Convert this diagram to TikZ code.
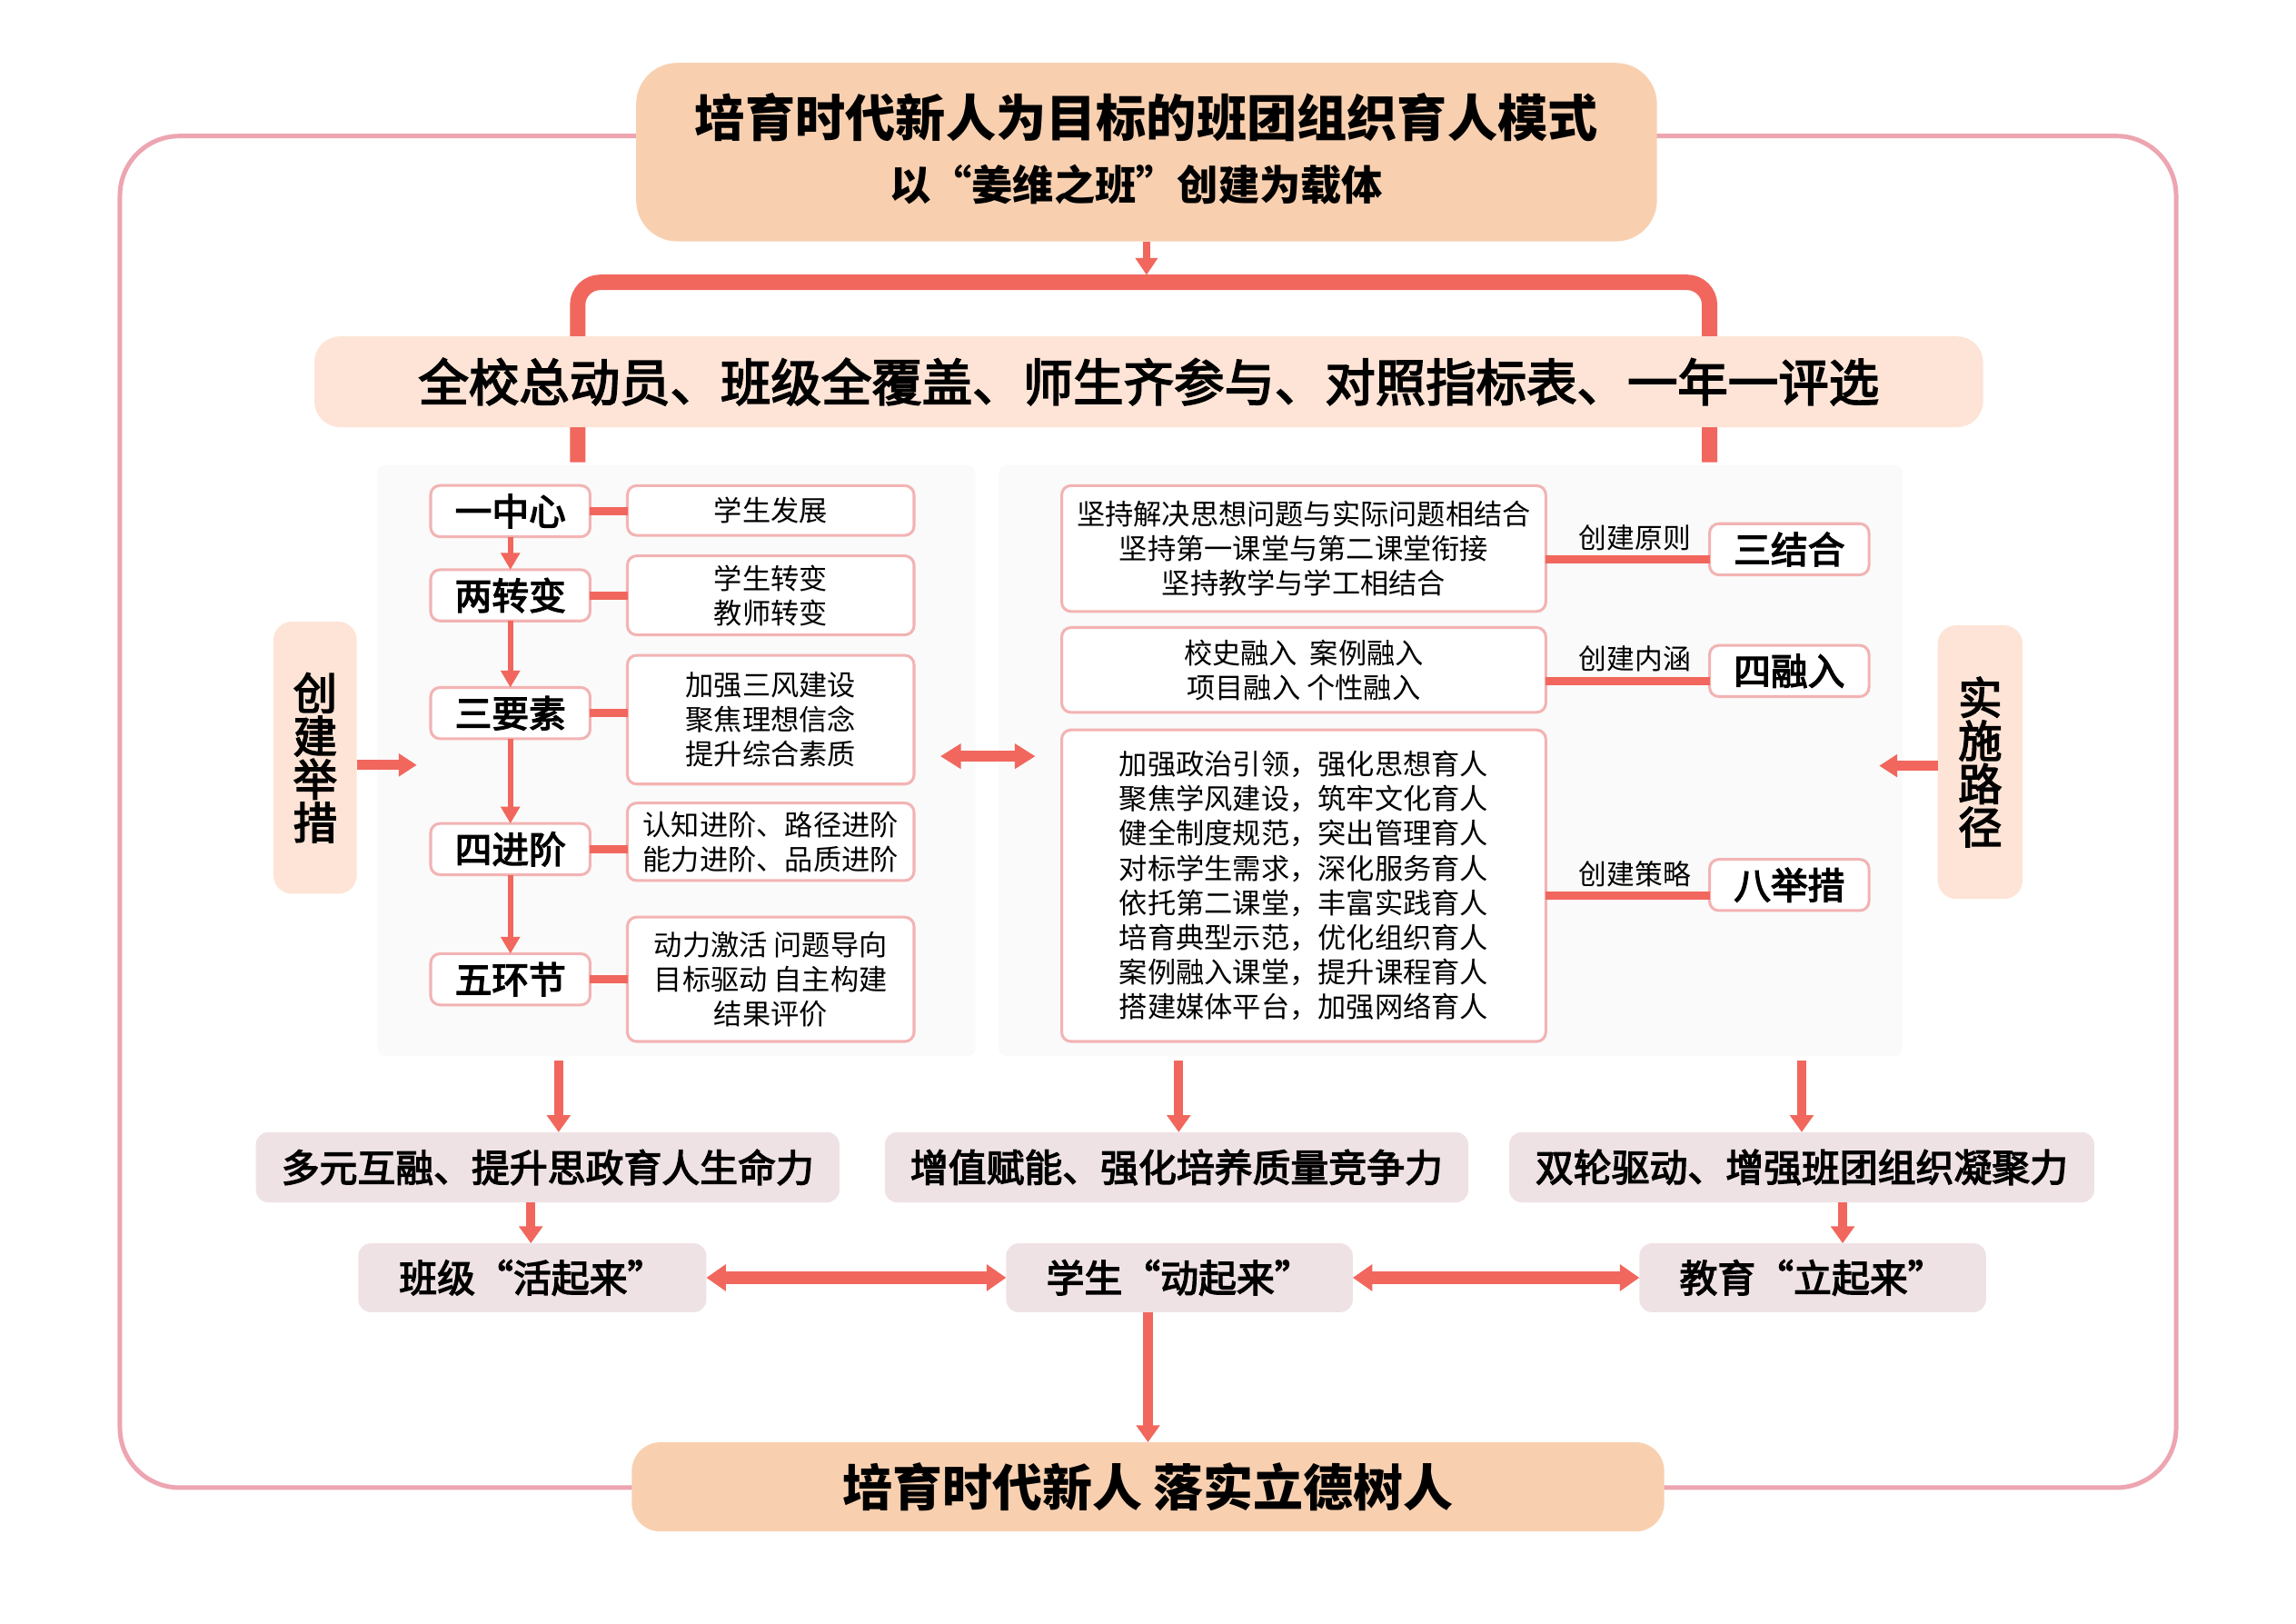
\documentclass[tikz,border=0pt]{standalone}
\usepackage{fontspec}
\setmainfont{Noto Sans CJK SC}
\newfontfamily\medfont{Noto Sans CJK SC}[FakeBold=3.2]
\usetikzlibrary{arrows.meta}
\definecolor{redc}{HTML}{F1675D}
\definecolor{framec}{HTML}{EDA5B1}
\definecolor{boxc}{HTML}{F3B3B3}
\definecolor{peach}{HTML}{F8D0B0}
\definecolor{lpeach}{HTML}{FDE4D6}
\definecolor{gpink}{HTML}{EFE2E4}
\definecolor{panelc}{HTML}{FAFAFA}
\begin{document}
\begin{tikzpicture}[x=0.25mm, y=-0.25mm,
  every node/.style={inner sep=0pt, outer sep=0pt, align=center, text=black},
  sz/.style 2 args={minimum width=#1*0.25mm, minimum height=#2*0.25mm},
  wbox/.style={draw=boxc, line width=1.35pt, fill=white, rounded corners=4.5pt},
  pbox/.style={fill=peach, rounded corners=20pt},
  lbox/.style={fill=lpeach, rounded corners=9pt},
  gbox/.style={fill=gpink, rounded corners=6pt},
  fTa/.style={font=\fontsize{24.4pt}{28pt}\selectfont\bfseries},
  fTb/.style={font=\fontsize{20pt}{26pt}\selectfont\bfseries},
  fBan/.style={font=\medfont\fontsize{24.5pt}{28pt}\selectfont},
  fNode/.style={font=\medfont\fontsize{18pt}{22pt}\selectfont},
  fDet/.style={font=\fontsize{13.8pt}{16.75pt}\selectfont},
  fLab/.style={font=\fontsize{13.6pt}{16pt}\selectfont},
  fSide/.style={font=\medfont\fontsize{21.3pt}{21pt}\selectfont},
  fRow/.style={font=\medfont\fontsize{18.5pt}{22pt}\selectfont},
  fFin/.style={font=\fontsize{24.3pt}{28pt}\selectfont\bfseries},
  arrS/.style={draw=redc, line width=2.5pt, -{Triangle[length=8.2pt,width=9pt]}},
  arrT/.style={draw=redc, line width=3.5pt, -{Triangle[length=8.3pt,width=10.5pt]}},
  arrB/.style={draw=redc, line width=4.5pt, -{Triangle[length=8.3pt,width=11.2pt]}},
  arrSide/.style={draw=redc, line width=4.8pt, -{Triangle[length=8.8pt,width=10.7pt]}},
  dblM/.style={draw=redc, line width=5.3pt, {Triangle[length=10pt,width=11.7pt]}-{Triangle[length=10pt,width=11.7pt]}},
  dblB/.style={draw=redc, line width=6.6pt, {Triangle[length=9.5pt,width=12.5pt]}-{Triangle[length=9.5pt,width=12.5pt]}},
  barS/.style={draw=redc, line width=4pt}
]
\useasboundingbox (0,0) rectangle (1570,1110.2);
\fill[white] (0,0) rectangle (1570,1110.2);

% outer frame
\draw[framec, line width=2.2pt, rounded corners=29pt] (82,93) rectangle (1488,1017);

% background panels
\fill[panelc, rounded corners=4pt] (258,318) rectangle (667,722);
\fill[panelc, rounded corners=4pt] (683,318) rectangle (1301,722);

% title
\node[pbox, sz={698}{122}] (title) at (784,104) {};
\node[fTa] (titleA) at (784,80) {培育时代新人为目标的班团组织育人模式};
\node[fTb] (titleB) at (777,126) {以“姜维之班”创建为载体};

% bracket
\coordinate (bl) at (395,316);
\coordinate (btl) at (395,193);
\coordinate (btr) at (1169,193);
\coordinate (br) at (1169,316);
\draw[redc, line width=7.5pt, rounded corners=11pt] (bl) -- (btl) -- (btr) -- (br);
\coordinate (btop) at (784,188);
\draw[arrT] (title.south) -- (btop);

% banner
\node[lbox, sz={1141}{62}, fBan, rounded corners=12.5pt] (banner) at (785.5,261) {全校总动员、班级全覆盖、师生齐参与、对照指标表、一年一评选};

% left column
\node[wbox, sz={109}{35}, fNode] (n1) at (349,349.4) {一中心};
\node[wbox, sz={109}{35}, fNode] (n2) at (349,407) {两转变};
\node[wbox, sz={109}{35}, fNode] (n3) at (349,487.5) {三要素};
\node[wbox, sz={109}{35}, fNode] (n4) at (349,580.5) {四进阶};
\node[wbox, sz={109}{35}, fNode] (n5) at (349,669.5) {五环节};

\node[wbox, sz={196}{34}, fDet] (d1) at (527,349) {学生发展};
\node[wbox, sz={196}{54}, fDet] (d2) at (527,407) {学生转变\\教师转变};
\node[wbox, sz={196}{88}, fDet] (d3) at (527,492) {加强三风建设\\聚焦理想信念\\提升综合素质};
\node[wbox, sz={196}{53}, fDet] (d4) at (527,575.5) {认知进阶、路径进阶\\能力进阶、品质进阶};
\node[wbox, sz={196}{85}, fDet] (d5) at (527,669.5) {动力激活 问题导向\\目标驱动 自主构建\\结果评价};

\draw[barS] (n1.east) -- (d1.west |- n1.east);
\draw[barS] (n2.east) -- (d2.west |- n2.east);
\draw[barS] (n3.east) -- (d3.west |- n3.east);
\draw[barS] (n4.east) -- (d4.west |- n4.east);
\draw[barS] (n5.east) -- (d5.west |- n5.east);

\draw[arrS] (n1.south) -- (n2.north);
\draw[arrS] (n2.south) -- (n3.north);
\draw[arrS] (n3.south) -- (n4.north);
\draw[arrS] (n4.south) -- (n5.north);

% side labels
\node[lbox, sz={57}{186}, fSide] (L) at (215.5,518) {创\\建\\举\\措};
\coordinate (Lt) at (285,523);
\draw[arrSide] (L.east |- Lt) -- (Lt);

\node[lbox, sz={58}{187}, fSide] (R) at (1354,521) {实\\施\\路\\径};
\coordinate (Rt) at (1285,523.5);
\draw[arrSide] (R.west |- Rt) -- (Rt);

% middle double arrow
\coordinate (m1) at (643,517);
\coordinate (m2) at (708,517);
\draw[dblM] (m1) -- (m2);

% right column
\node[wbox, sz={331}{86}, fDet] (rA) at (891.5,375) {坚持解决思想问题与实际问题相结合\\坚持第一课堂与第二课堂衔接\\坚持教学与学工相结合};
\node[wbox, sz={331}{58}, fDet] (rB) at (891.5,458) {校史融入\ \ 案例融入\\项目融入 个性融入};
\node[wbox, sz={331}{213}, fDet, font=\fontsize{13.8pt}{16.85pt}\selectfont] (rC) at (891.5,605.5) {加强政治引领，强化思想育人\\聚焦学风建设，筑牢文化育人\\健全制度规范，突出管理育人\\对标学生需求，深化服务育人\\依托第二课堂，丰富实践育人\\培育典型示范，优化组织育人\\案例融入课堂，提升课程育人\\搭建媒体平台，加强网络育人};

\node[wbox, sz={109}{35}, fNode] (s1) at (1223.5,375.5) {三结合};
\node[wbox, sz={109}{35}, fNode] (s2) at (1223.5,458.7) {四融入};
\node[wbox, sz={109}{35}, fNode] (s3) at (1223.5,605) {八举措};

\draw[barS] ([yshift=-5pt]s1.west) -- ([yshift=-5pt]s1.west -| rA.east);
\draw[barS] ([yshift=-5pt]s2.west) -- ([yshift=-5pt]s2.west -| rB.east);
\draw[barS] ([yshift=-5pt]s3.west) -- ([yshift=-5pt]s3.west -| rC.east);

\node[fLab] (lab1) at (1118,367.5) {创建原则};
\node[fLab] (lab2) at (1118,450.5) {创建内涵};
\node[fLab] (lab3) at (1118,597.5) {创建策略};

% bottom rows
\node[gbox, sz={399}{48}, fRow] (b1) at (374.5,798) {多元互融、提升思政育人生命力};
\node[gbox, sz={399}{48}, fRow] (b2) at (804.5,798) {增值赋能、强化培养质量竞争力};
\node[gbox, sz={400}{48}, fRow] (b3) at (1232,798) {双轮驱动、增强班团组织凝聚力};

\coordinate (k1) at (382,725);
\coordinate (k2) at (806,725);
\coordinate (k3) at (1232,725);
\draw[arrB] (k1) -- (k1 |- b1.north);
\draw[arrB] (k2) -- (k2 |- b2.north);
\draw[arrB] (k3) -- (k3 |- b3.north);

\node[gbox, sz={238}{47}, fRow] (e1) at (364,873.5) {班级“活起来”};
\node[gbox, sz={237}{47}, fRow] (e2) at (806.5,873.5) {学生“动起来”};
\node[gbox, sz={237}{47}, fRow] (e3) at (1239.5,873.5) {教育“立起来”};

\coordinate (k4) at (363,0);
\coordinate (k5) at (1260,0);
\draw[arrB] (k4 |- b1.south) -- (k4 |- e1.north);
\draw[arrB] (k5 |- b3.south) -- (k5 |- e3.north);

\draw[dblB] (e1.east) -- (e2.west);
\draw[dblB] (e2.east) -- (e3.west);

% final
\node[pbox, sz={706}{61}, fFin, rounded corners=14pt] (fin) at (785,1016.5) {培育时代新人 落实立德树人};
\draw[arrB] (fin.north |- e2.south) -- (fin.north);
\end{tikzpicture}
\end{document}
